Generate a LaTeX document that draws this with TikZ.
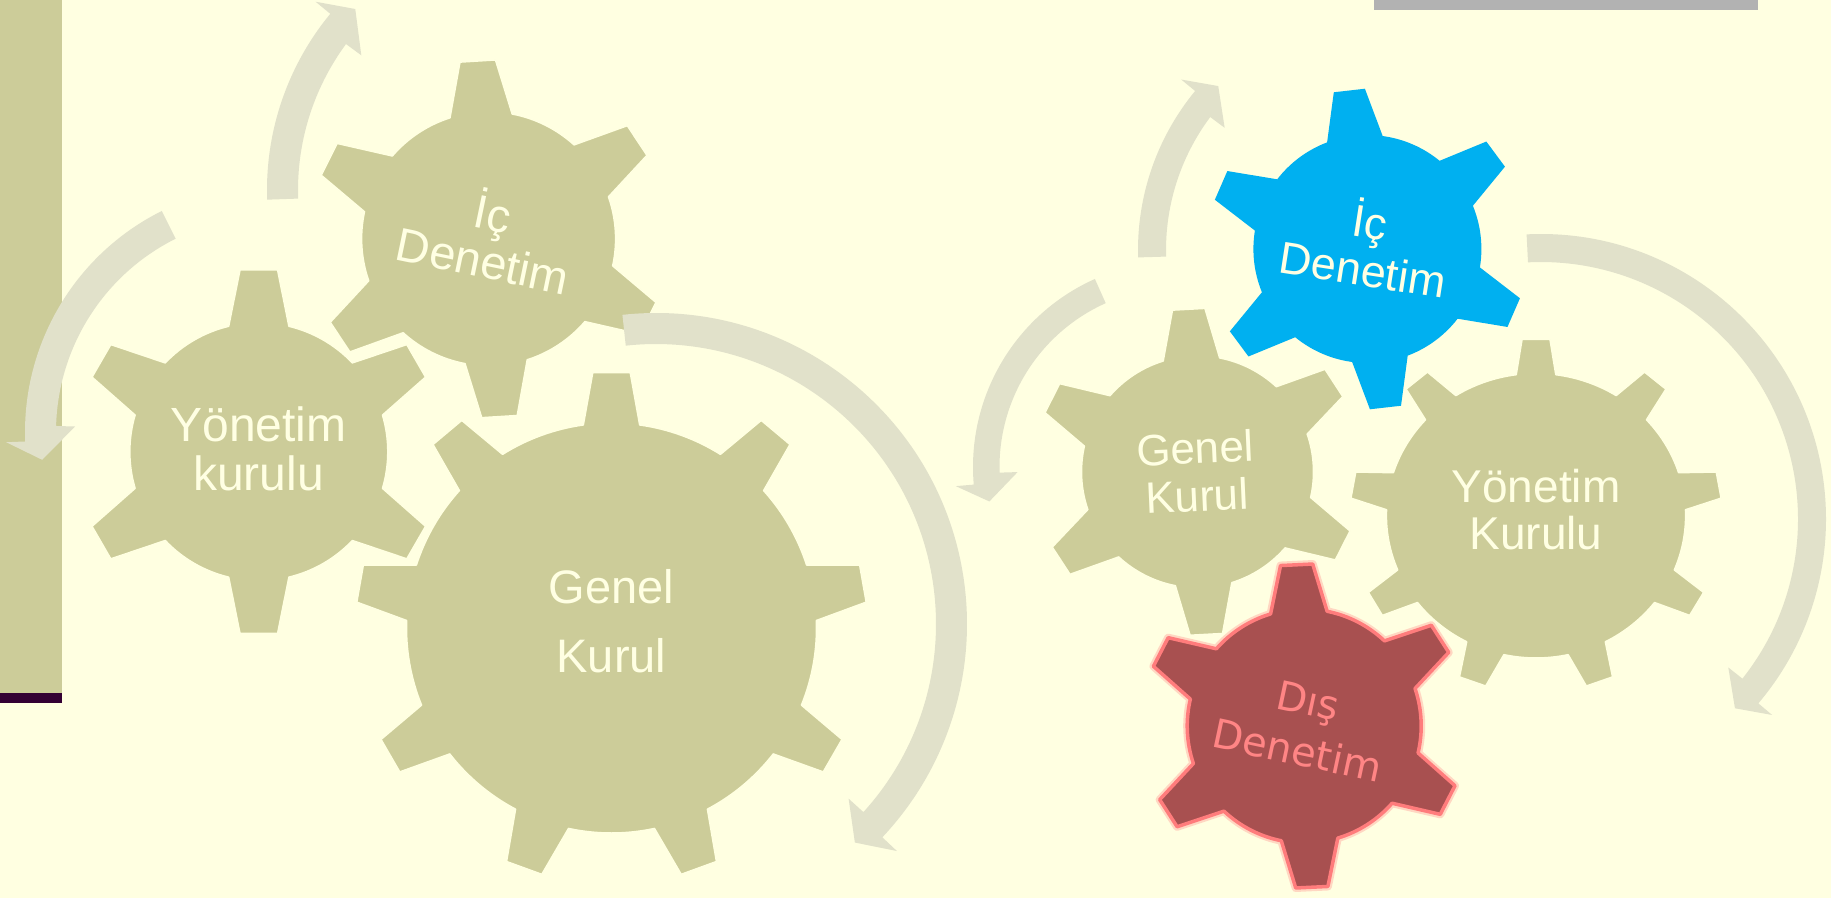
\documentclass[tikz,border=0pt]{standalone}
\usepackage{fontspec}
\setmainfont{Liberation Sans}
\newfontfamily\dejavufont{DejaVu Sans}
\usepackage{tikz}
\usetikzlibrary{positioning}

\definecolor{bgc}{HTML}{FFFFE1}
\definecolor{gearc}{HTML}{CCCC99}
\definecolor{arrowc}{HTML}{E1E1CA}
\definecolor{labelc}{HTML}{FFFFE3}
\definecolor{bluec}{HTML}{00B0F0}
\definecolor{redc}{HTML}{A85050}
\definecolor{redline}{HTML}{FF7C7C}
\definecolor{redtext}{HTML}{FF8585}
\definecolor{plumc}{HTML}{330033}
\definecolor{barc}{HTML}{B2B2B2}

\tikzset{
  olivegear/.style={fill=gearc, draw=bgc, line width=1.5pt, line join=round},
  bluegear/.style={fill=bluec},
  redgear/.style={fill=redc, draw=redline, line width=3.5pt, line join=round},
  redglow/.style={draw=redline, line width=8pt, opacity=0.3, line join=round},
  turnarrow/.style={fill=arrowc},
  gearlabel/.style={align=center, text=labelc, inner sep=0pt},
}

% gear outline: teeth, body radius, tip radius, first tooth angle, half angle at root, half angle at tip
\newcommand{\gearpath}[6]{({#4-#5}:#2)
  \foreach \k in {1,...,#1}{
    -- ({#4+(\k-1)*360/#1-#6}:#3) -- ({#4+(\k-1)*360/#1+#6}:#3)
    -- ({#4+(\k-1)*360/#1+#5}:#2)
    arc[start angle={#4+(\k-1)*360/#1+#5}, end angle={#4+\k*360/#1-#5}, radius=#2]
  } -- cycle}

% curved arrow: centre, inner radius, outer radius, tail angle, inner corner, outer corner, tip angle, overhang
\newcommand{\turnpath}[8]{([shift={(#4:#3)}]#1)
  arc[start angle=#4, end angle=#6, radius=#3]
  -- ([shift={(#6:{#3+#8})}]#1) -- ([shift={(#7:{(#2+#3)/2})}]#1)
  -- ([shift={(#5:{#2-#8})}]#1) -- ([shift={(#5:#2)}]#1)
  arc[start angle=#5, end angle=#4, radius=#2] -- cycle}

\begin{document}
\begin{tikzpicture}[x=1pt, y=-1pt]
    % Page, side bar and top bar
    \fill[bgc] (0,0) rectangle (1831,898);
    \useasboundingbox (0,0) rectangle (1831,898);
    \fill[gearc] (0,0) rectangle (62,693);
    \fill[plumc] (0,693) rectangle (62,703);
    \fill[barc] (1374,0) rectangle (1758,9.5);

    % Gear centres
    \coordinate (gkL) at (611.5,628);
    \coordinate (icL) at (488.6,238.8);
    \coordinate (ykL) at (258.8,451.7);
    \coordinate (gkR) at (1197.5,471.8);
    \coordinate (ykR) at (1536,515.7);
    \coordinate (icR) at (1367.4,249);
    \coordinate (dsR) at (1304.2,726);

    % Arrow centres
    \coordinate (aTopL) at (544,190);
    \coordinate (aLeftL) at (272,432);
    \coordinate (aBigL) at (656,624);
    \coordinate (aTopR) at (1388,250);
    \coordinate (aLeftR) at (1179,467);
    \coordinate (aBigR) at (1541,519);

    % Draw gears, left group
    \path[olivegear, shift={(gkL)}] \gearpath{9}{205}{256}{270}{7.9}{4.2};
    \path[olivegear, shift={(icL)}] \gearpath{6}{127}{179}{266.5}{14.2}{5.7};
    \path[olivegear, shift={(ykL)}] \gearpath{6}{129}{182.7}{270}{13.5}{5.9};

    % Draw gears, right group
    \path[olivegear, shift={(gkR)}] \gearpath{6}{116}{163.6}{266.9}{14.1}{5.7};
    \path[olivegear, shift={(ykR)}, yscale=0.951] \gearpath{9}{149.6}{186}{270}{7.6}{4.3};
    \path[bluegear, shift={(icR)}] \gearpath{6}{114}{160.3}{263.5}{14.2}{5.6};
    \path[redglow, shift={(dsR)}] \gearpath{6}{117}{162.2}{267.3}{14}{5.7};
    \path[redgear, shift={(dsR)}] \gearpath{6}{117}{162.2}{267.3}{14}{5.7};

    % Gear names
    \node[gearlabel, font=\fontsize{47}{69}\selectfont] (gkLtext) at (611.5,621.5) {Genel\\Kurul};
    \node[gearlabel, rotate=-11.7, font=\fontsize{47}{48}\selectfont] (icLtext) at (488.5,234) {İç\\Denetim};
    \node[gearlabel, font=\fontsize{48}{49}\selectfont] (ykLtext) at (258.5,449) {Yönetim\\kurulu};
    \node[gearlabel, rotate=2.5, font=\fontsize{44}{48}\selectfont] (gkRtext) at (1196,471.7) {Genel\\Kurul};
    \node[gearlabel, font=\fontsize{46}{47}\selectfont] (ykRtext) at (1536,509.7) {Yönetim\\Kurulu};
    \node[gearlabel, rotate=-8.8, font=\fontsize{45}{48}\selectfont] (icRtext) at (1367,243) {İç\\Denetim};
    \node[gearlabel, text=redtext, rotate=-12, font=\dejavufont\fontsize{40}{51}\selectfont] (dsRtext) at (1302.7,725.7) {Dış\\Denetim};

    % Curved arrows round the gears
    \foreach \c/\ri/\ro/\ta/\ia/\oa/\pa/\ov in {aTopL/246/277/178/216.4/219.5/223.8/19,
        aLeftL/216/247/243.5/181.6/177.8/173.1/19, aBigL/280/311/263.8/402.2/403.3/407.7/20,
        aTopR/222/250/178.3/216.8/219.5/224/18, aLeftR/179.5/206/245.9/178.2/175.1/169.7/18,
        aBigR/257/285/267.1/398.4/400.3/404.3/18} {
      \fill[turnarrow] \turnpath{\c}{\ri}{\ro}{\ta}{\ia}{\oa}{\pa}{\ov};
    }
\end{tikzpicture}
\end{document}
